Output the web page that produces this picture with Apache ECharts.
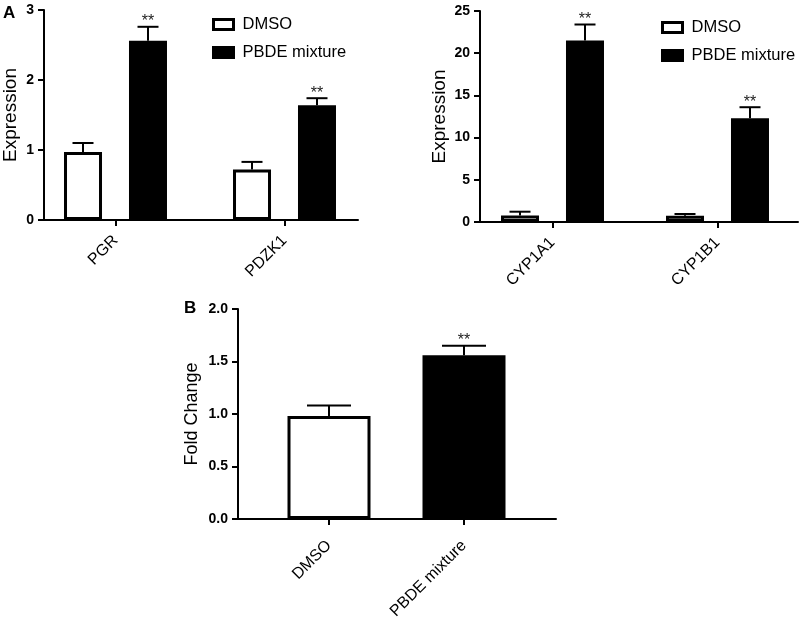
<!DOCTYPE html>
<html>
<head>
<meta charset="utf-8">
<script src="https://cdn.jsdelivr.net/npm/echarts@6/dist/echarts.min.js"></script>
<style>
  html, body { margin: 0; padding: 0; background: #fff; }
  #chart { width: 800px; height: 622px; }
</style>
</head>
<body>
<div id="chart"></div>
<script>
// panel A left: qPCR expression
const catsLeft = ['PGR', 'PDZK1']
const dmsoLeft = [0.97, 0.72]
const dmsoLeftErr = [0.13, 0.11]
const pbdeLeft = [2.56, 1.64]
const pbdeLeftErr = [0.2, 0.1]
const ticksLeft = [0, 1, 2, 3]

// panel A right
const catsRight = ['CYP1A1', 'CYP1B1']
const dmsoRight = [0.77, 0.75]
const dmsoRightErr = [0.45, 0.2]
const pbdeRight = [21.5, 12.3]
const pbdeRightErr = [1.9, 1.3]
const ticksRight = [0, 5, 10, 15, 20, 25]

// panel B: fold change
const catsFold = ['DMSO', 'PBDE mixture']
const foldValues = [0.98, 1.56]
const foldErr = [0.1, 0.09]
const foldStars = ['', '**']
const ticksFold = [0, 0.5, 1, 1.5, 2]

const FONT = 'Liberation Sans, Arial, sans-serif'
const white = { color: '#fff', borderColor: '#000', borderWidth: 3 }
const black = { color: '#000', borderColor: '#000', borderWidth: 3 }

const chart = echarts.init(document.getElementById('chart'))

// error bar (upper whisker + cap) with optional significance stars
function errorSeries(xi, values, errs, stars, shift, capHalf) {
	return {
		type: 'custom',
		xAxisIndex: xi,
		yAxisIndex: xi,
		z: 5,
		silent: true,
		data: values.map((v, i) => [i, v, errs[i]]),
		renderItem: (params, api) => {
			const base = api.coord([api.value(0), api.value(1)])
			const top = api.coord([api.value(0), api.value(1) + api.value(2)])
			const x = base[0] + shift
			const ls = { stroke: '#000', lineWidth: 2 }
			const children = [
				{ type: 'line', shape: { x1: x, y1: base[1], x2: x, y2: top[1] }, style: ls },
				{ type: 'line', shape: { x1: x - capHalf, y1: top[1], x2: x + capHalf, y2: top[1] }, style: ls }
			]
			const s = stars[params.dataIndex]
			if (s) {
				children.push({
					type: 'text',
					x: x,
					y: top[1] + 3,
					style: { text: s, fill: '#222', font: '16px ' + FONT, align: 'center', verticalAlign: 'bottom' }
				})
			}
			return { type: 'group', children: children }
		}
	}
}

function frameX(gi) {
	return {
		gridIndex: gi, type: 'value', min: 0, max: 1,
		axisLine: { show: true, lineStyle: { color: '#000', width: 2 } },
		axisTick: { show: false }, axisLabel: { show: false }, splitLine: { show: false }
	}
}

function frameY(gi, ticks, name, gap, size, fmt) {
	return {
		gridIndex: gi, type: 'value',
		min: ticks[0], max: ticks[ticks.length - 1], interval: ticks[1] - ticks[0],
		name: name, nameLocation: 'middle', nameGap: gap,
		nameTextStyle: { color: '#000', fontSize: size, fontFamily: FONT },
		axisLine: { show: true, lineStyle: { color: '#000', width: 2 } },
		axisTick: { show: true, length: 6, lineStyle: { color: '#000', width: 2 } },
		axisLabel: { color: '#000', fontSize: 14, fontWeight: 'bold', fontFamily: FONT, margin: 10, formatter: fmt },
		splitLine: { show: false }
	}
}

function dataX(gi, cats, margin) {
	return {
		gridIndex: gi, type: 'category', data: cats,
		axisLine: { show: false },
		axisTick: { show: true, alignWithLabel: true, length: 6, lineStyle: { color: '#000', width: 2 } },
		axisLabel: { rotate: 45, color: '#000', fontSize: 16, fontFamily: FONT, margin: margin }
	}
}

function dataY(gi, ticks) {
	return { gridIndex: gi, type: 'value', min: ticks[0], max: ticks[ticks.length - 1], show: false }
}

function legend(left, top) {
	return {
		orient: 'vertical', left: left, top: top,
		itemWidth: 20, itemHeight: 10, itemGap: 11,
		selectedMode: false,
		textStyle: { color: '#000', fontSize: 16.5, fontFamily: FONT, padding: [0, 0, 0, 4] },
		data: [
			{ name: 'DMSO', icon: 'rect', itemStyle: white },
			{ name: 'PBDE mixture', icon: 'rect', itemStyle: black }
		]
	}
}

const fix1 = v => v.toFixed(1)

chart.setOption({
	backgroundColor: '#fff',
	animation: false,
	textStyle: { fontFamily: FONT },
	grid: [
		{ left: 43, top: 10, width: 315, height: 210 },
		{ left: 31, top: 10, width: 338, height: 210 },
		{ left: 480, top: 11, width: 318, height: 211 },
		{ left: 470, top: 11, width: 337, height: 211 },
		{ left: 238, top: 309, width: 318, height: 210 },
		{ left: 261.5, top: 309, width: 270, height: 210 }
	],
	legend: [legend(207, 11), legend(656, 14)],
	xAxis: [
		dataX(1, catsLeft, 18), dataX(3, catsRight, 18), dataX(5, catsFold, 24),
		frameX(0), frameX(2), frameX(4)
	],
	yAxis: [
		dataY(1, ticksLeft), dataY(3, ticksRight), dataY(5, ticksFold),
		frameY(0, ticksLeft, 'Expression', 24, 19),
		frameY(2, ticksRight, 'Expression', 31, 19),
		frameY(4, ticksFold, 'Fold Change', 37, 18, fix1)
	],
	graphic: [
		{ type: 'text', left: 3, top: 5, style: { text: 'A', font: 'bold 17px ' + FONT, fill: '#000' } },
		{ type: 'text', left: 184, top: 300, style: { text: 'B', font: 'bold 17px ' + FONT, fill: '#000' } }
	],
	series: [
		{ name: 'DMSO', type: 'bar', xAxisIndex: 0, yAxisIndex: 0, barWidth: 38, barGap: '71%', itemStyle: white, data: dmsoLeft, silent: true },
		{ name: 'PBDE mixture', type: 'bar', xAxisIndex: 0, yAxisIndex: 0, barWidth: 38, barGap: '71%', itemStyle: black, data: pbdeLeft, silent: true },
		errorSeries(0, dmsoLeft, dmsoLeftErr, [], -32.5, 10.5),
		errorSeries(0, pbdeLeft, pbdeLeftErr, ['**', '**'], 32.5, 10.5),

		{ name: 'DMSO', type: 'bar', xAxisIndex: 1, yAxisIndex: 1, barWidth: 38, barGap: '71%', itemStyle: white, data: dmsoRight, silent: true },
		{ name: 'PBDE mixture', type: 'bar', xAxisIndex: 1, yAxisIndex: 1, barWidth: 38, barGap: '71%', itemStyle: black, data: pbdeRight, silent: true },
		errorSeries(1, dmsoRight, dmsoRightErr, [], -32.5, 10.5),
		errorSeries(1, pbdeRight, pbdeRightErr, ['**', '**'], 32.5, 10.5),

		{
			name: 'Fold Change', type: 'bar', xAxisIndex: 2, yAxisIndex: 2, barWidth: 83, silent: true,
			data: foldValues.map((v, i) => ({ value: v, itemStyle: i === 0 ? white : black }))
		},
		errorSeries(2, foldValues, foldErr, foldStars, 0, 22)
	]
})
</script>
</body>
</html>
